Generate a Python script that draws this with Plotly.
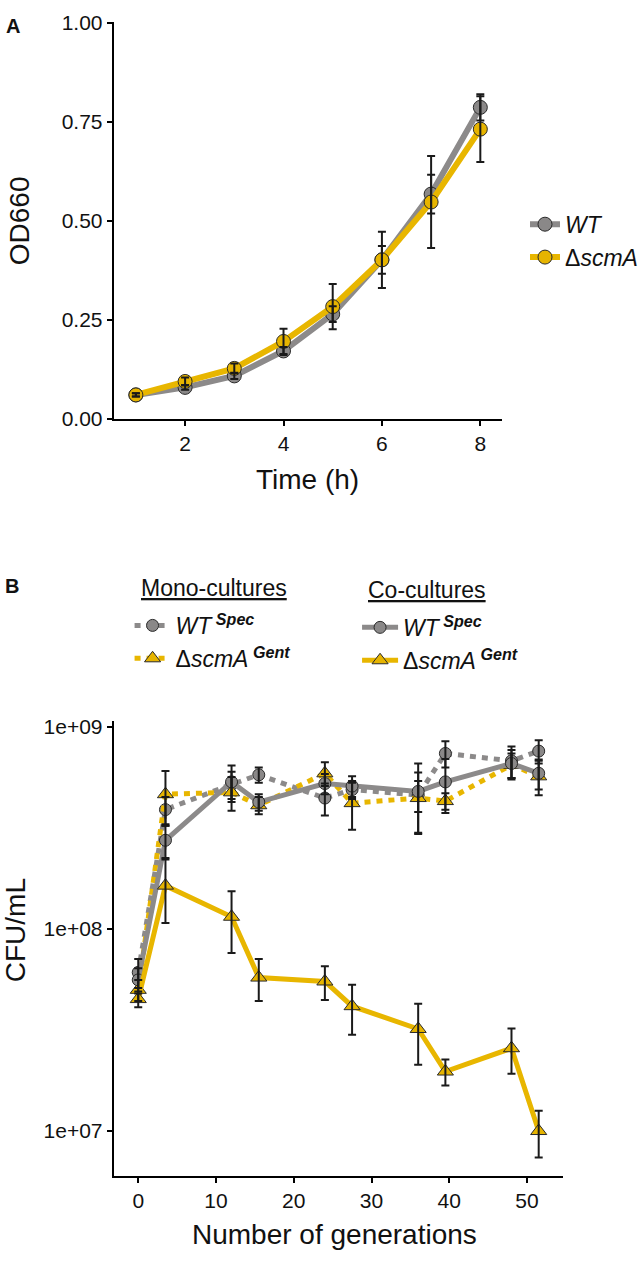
import plotly.graph_objects as go

# ---------------- Panel A data ----------------
time_h = [1, 2, 3, 4, 5, 6, 7, 8]
od_wt = [0.061, 0.080, 0.109, 0.172, 0.265, 0.402, 0.568, 0.787]
od_wt_err = [0.004, 0.006, 0.008, 0.010, 0.020, 0.035, 0.049, 0.033]
od_scma = [0.061, 0.095, 0.128, 0.196, 0.284, 0.402, 0.548, 0.732]
od_scma_err = [0.004, 0.010, 0.012, 0.032, 0.057, 0.071, 0.116, 0.083]

# ---------------- Panel B data ----------------
gens = [0, 3.5, 12, 15.5, 24, 27.5, 36, 39.5, 48, 51.5]
mono_wt = [6.1e7, 3.9e8, 5.2e8, 5.8e8, 4.45e8, 4.9e8, 4.6e8, 7.4e8, 6.8e8, 7.6e8]
mono_wt_err = [1.0e7, 6e7, 8e7, 5e7, 8e7, 5e7, 8e7, 1.1e8, 1.2e8, 1.0e8]
co_wt = [5.6e7, 2.75e8, 5.35e8, 4.25e8, 5.25e8, 5.1e8, 4.8e8, 5.35e8, 6.6e8, 5.9e8]
co_wt_err = [8e6, 5e7, 1.1e8, 4e7, 6e7, 6e7, 1.8e8, 1.6e8, 1.1e8, 1.0e8]
mono_scma = [5.0e7, 4.65e8, 4.75e8, 4.1e8, 5.9e8, 4.2e8, 4.45e8, 4.3e8, 6.5e8, 5.7e8]
mono_scma_err = [6e6, 1.4e8, 9e7, 4e7, 8e7, 1.1e8, 1.5e8, 4e7, 9e7, 1.1e8]
co_scma = [4.5e7, 1.64e8, 1.15e8, 5.75e7, 5.5e7, 4.15e7, 3.2e7, 1.97e7, 2.57e7, 1.0e7]
co_scma_err = [4e6, 5.7e7, 3.9e7, 1.35e7, 1.05e7, 1.15e7, 1.07e7, 2.9e6, 6.5e6, 2.6e6]

# ---------------- Styles ----------------
GRAY = "#8c8a8a"
GRAY_FILL = "#8a8888"
YEL = "#e8b600"
YEL_FILL = "#e6b400"
OUTLINE = "#2a2a2a"
ERR = "#1a1a1a"
TXT = "#111111"
FONT = "Liberation Sans, Arial, sans-serif"
W, H = 643, 1262


def px_x(x):
    return x / W


def px_y(y):
    return 1 - y / H


fig = go.Figure()

# ---- Panel A ----
fig.add_trace(go.Scatter(
    x=time_h, y=od_wt, mode="lines+markers", name="<i>WT</i>",
    line=dict(color=GRAY, width=6),
    marker=dict(symbol="circle", size=14, color=GRAY_FILL, line=dict(color=OUTLINE, width=1)),
    xaxis="x", yaxis="y", legend="legend"))
fig.add_trace(go.Scatter(
    x=time_h, y=od_scma, mode="lines+markers", name="Δ<i>scmA</i>",
    line=dict(color=YEL, width=6),
    marker=dict(symbol="circle", size=14, color=YEL_FILL, line=dict(color=OUTLINE, width=1)),
    xaxis="x", yaxis="y", legend="legend"))
for yy, ee in [(od_wt, od_wt_err), (od_scma, od_scma_err)]:
    fig.add_trace(go.Scatter(
        x=time_h, y=yy, mode="markers", showlegend=False, hoverinfo="skip",
        marker=dict(size=1, color="rgba(0,0,0,0)"),
        error_y=dict(type="data", array=ee, color=ERR, thickness=2, width=4),
        xaxis="x", yaxis="y"))

# ---- Panel B ----
series_b = [
    (mono_wt, mono_wt_err, "<i>WT</i><sup><b><i> Spec</i></b></sup>", GRAY, GRAY_FILL, "circle", "6px,6px", "legend2", 12),
    (mono_scma, mono_scma_err, "Δ<i>scmA</i><sup><b><i> Gent</i></b></sup>", YEL, YEL_FILL, "triangle-up", "6px,6px", "legend2", 14),
    (co_wt, co_wt_err, "<i>WT</i><sup><b><i> Spec</i></b></sup>", GRAY, GRAY_FILL, "circle", "solid", "legend3", 12),
    (co_scma, co_scma_err, "Δ<i>scmA</i><sup><b><i> Gent</i></b></sup>", YEL, YEL_FILL, "triangle-up", "solid", "legend3", 14),
]
for yy, ee, nm, lc, fc, sym, dash, lg, ms in series_b:
    fig.add_trace(go.Scatter(
        x=gens, y=yy, mode="lines+markers", name=nm,
        line=dict(color=lc, width=5, dash=dash),
        marker=dict(symbol=sym, size=ms, color=fc, line=dict(color=OUTLINE, width=1)),
        xaxis="x2", yaxis="y2", legend=lg))
for yy, ee, nm, lc, fc, sym, dash, lg, ms in series_b:
    fig.add_trace(go.Scatter(
        x=gens, y=yy, mode="markers", showlegend=False, hoverinfo="skip",
        marker=dict(size=1, color="rgba(0,0,0,0)"),
        error_y=dict(type="data", array=ee, color=ERR, thickness=2, width=4),
        xaxis="x2", yaxis="y2"))

axis_common = dict(
    showline=True, linecolor="black", linewidth=2, mirror=False,
    ticks="outside", ticklen=5, tickwidth=2, tickcolor="black",
    showgrid=False, zeroline=False,
    tickfont=dict(family=FONT, size=21, color=TXT))

legend_common = dict(xanchor="left", yanchor="top",
                     font=dict(family=FONT, size=23, color=TXT),
                     bgcolor="rgba(0,0,0,0)", tracegroupgap=0)

fig.update_layout(
    width=W, height=H, margin=dict(l=0, r=0, t=0, b=0),
    paper_bgcolor="white", plot_bgcolor="white",
    font=dict(family=FONT, color=TXT),
    xaxis=dict(domain=[px_x(115), px_x(508)], anchor="y", range=[0.55, 8.45],
               tickvals=[2, 4, 6, 8], **axis_common),
    yaxis=dict(domain=[px_y(416), px_y(12)], anchor="x", range=[0, 1.003],
               tickvals=[0, 0.25, 0.5, 0.75, 1.0], tickformat=".2f", **axis_common),
    xaxis2=dict(domain=[px_x(115), px_x(569)], anchor="y2", range=[-3.15, 54.6],
                tickvals=[0, 10, 20, 30, 40, 50], **axis_common),
    yaxis2=dict(domain=[px_y(1186), px_y(723)], anchor="x2", type="log", range=[6.776, 9.03],
                tickvals=[1e7, 1e8, 1e9], ticktext=["1e+07", "1e+08", "1e+09"], **axis_common),
    legend=dict(x=px_x(531), y=px_y(196), itemwidth=30, **legend_common),
    legend2=dict(x=px_x(131), y=px_y(604), itemwidth=36, **legend_common),
    legend3=dict(x=px_x(361), y=px_y(606), itemwidth=36, **legend_common),
)

ann = [
    dict(text="<b>A</b>", x=13, y=16, size=20),
    dict(text="<b>B</b>", x=12, y=586, size=20),
    dict(text="<u>Mono-cultures</u>", x=216, y=588, size=23),
    dict(text="<u>Co-cultures</u>", x=432, y=590, size=23),
    dict(text="Time (h)", x=311, y=477, size=28),
    dict(text="Number of generations", x=338, y=1245, size=28),
]
for a in ann:
    fig.add_annotation(text=a["text"], x=px_x(a["x"]), y=px_y(a["y"]), xref="paper", yref="paper",
                       showarrow=False, xanchor="center", yanchor="middle",
                       font=dict(family=FONT, size=a["size"], color=TXT))
for txt, x, y in [("OD660", 20, 214), ("CFU/mL", 16, 936)]:
    fig.add_annotation(text=txt, x=px_x(x), y=px_y(y), xref="paper", yref="paper",
                       showarrow=False, xanchor="center", yanchor="middle", textangle=-90,
                       font=dict(family=FONT, size=28, color=TXT))

fig.write_html("out.html")
